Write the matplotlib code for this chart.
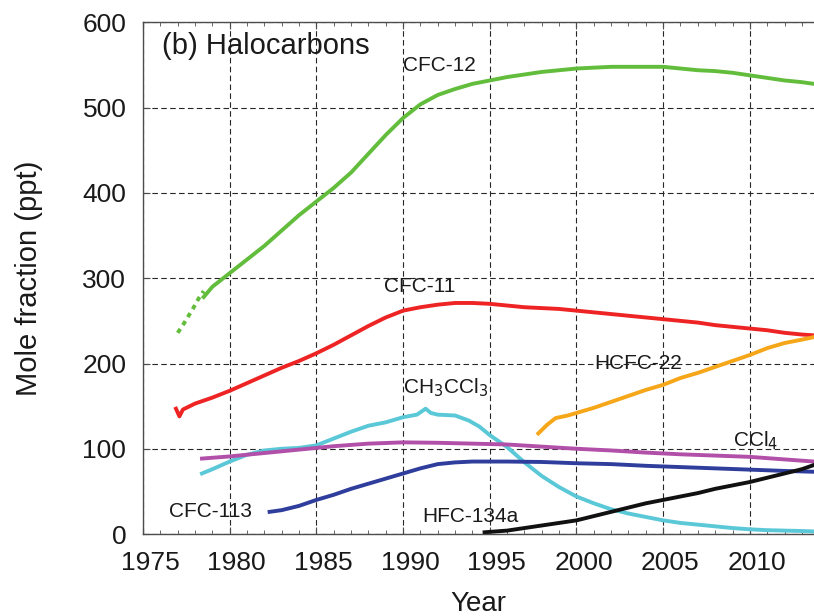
import matplotlib
matplotlib.use("Agg")
import matplotlib.pyplot as plt
import matplotlib.transforms as mtransforms
from matplotlib.ticker import MultipleLocator

plt.rcParams['font.family'] = ['Liberation Sans', 'DejaVu Sans']

## Dados (ppt)
anos_cfc12_ini = [1977.0, 1977.3, 1977.6, 1977.9, 1978.2, 1978.5]
cfc12_ini = [236, 245, 255, 265, 276, 285]

anos_cfc12 = [1978.5, 1979, 1980, 1981, 1982, 1983, 1984, 1985, 1986, 1987, 1988,
              1989, 1990, 1991, 1992, 1993, 1994, 1995, 1996, 1997, 1998, 1999,
              2000, 2001, 2002, 2003, 2004, 2005, 2006, 2007, 2008, 2009, 2010,
              2011, 2012, 2013, 2013.7]
cfc12 = [278, 290, 306, 322, 338, 356, 374, 390, 406, 424, 446, 468, 488, 504,
         515, 522, 528, 532, 536, 539, 542, 544, 546, 547, 548, 548, 548, 548,
         546, 544, 543, 541, 538, 535, 532, 530, 528]

anos_cfc11 = [1976.9, 1977.1, 1977.3, 1978, 1979, 1980, 1981, 1982, 1983, 1984,
              1985, 1986, 1987, 1988, 1989, 1990, 1991, 1992, 1993, 1994, 1995,
              1996, 1997, 1998, 1999, 2000, 2001, 2002, 2003, 2004, 2005, 2006,
              2007, 2008, 2009, 2010, 2011, 2012, 2013, 2013.7]
cfc11 = [147, 138, 146, 153, 160, 168, 177, 186, 195, 203, 212, 222, 233, 244,
         254, 262, 266, 269, 271, 271, 270, 268, 266, 265, 264, 262, 260, 258,
         256, 254, 252, 250, 248, 245, 243, 241, 239, 236, 234, 233]

anos_hcfc22 = [1997.8, 1998.3, 1998.8, 1999.5, 2000, 2001, 2002, 2003, 2004, 2005,
               2006, 2007, 2008, 2009, 2010, 2011, 2012, 2013, 2013.7]
hcfc22 = [118, 128, 136, 139, 142, 148, 155, 162, 169, 175, 183, 189, 196, 203,
          210, 218, 224, 228, 231]

anos_ch3ccl3 = [1978.4, 1979, 1980, 1981, 1982, 1983, 1984, 1985, 1986, 1987, 1988,
                1989, 1990, 1990.8, 1991.3, 1991.6, 1992, 1993, 1993.8, 1994.4,
                1995, 1996, 1997, 1998, 1999, 2000, 2001, 2002, 2003, 2004, 2005,
                2006, 2007, 2008, 2009, 2010, 2011, 2012, 2013, 2013.7]
ch3ccl3 = [71, 76, 85, 93, 98, 100, 101, 104, 112, 120, 127, 131, 137, 140, 147,
           142, 140, 139, 133, 126, 116, 102, 84, 68, 55, 44, 36, 29, 24, 20, 16,
           13, 11, 9, 7, 5.5, 4.5, 4, 3.5, 3]

anos_ccl4 = [1978.4, 1980, 1982, 1984, 1986, 1988, 1990, 1992, 1994, 1996, 1998,
             2000, 2002, 2004, 2006, 2008, 2010, 2012, 2013.7]
ccl4 = [88.5, 91, 95, 99, 103, 106, 107.5, 107, 106, 105, 102.5, 100, 98, 95.5,
        93.5, 92, 90.5, 87.5, 85]

anos_cfc113 = [1982.3, 1983, 1984, 1985, 1986, 1987, 1988, 1989, 1990, 1991, 1992,
               1993, 1994, 1995, 1996, 1998, 2000, 2002, 2004, 2006, 2008, 2010,
               2012, 2013.7]
cfc113 = [26, 28, 33, 40, 46, 53, 59, 65, 71, 77, 82, 84, 85, 85, 85, 84.5, 83,
          82, 80, 78.5, 77, 75.5, 74, 73]

anos_hfc134a = [1994.7, 1995, 1996, 1997, 1998, 1999, 2000, 2001, 2002, 2003, 2004,
                2005, 2006, 2007, 2008, 2009, 2010, 2011, 2012, 2013, 2013.7]
hfc134a = [2, 2.5, 4, 7, 10, 13, 16, 21, 26, 31, 36, 40, 44, 48, 53, 57, 61, 66,
           71, 76, 81]

# rótulos das séries: (texto, ano, valor)
rotulos = [
    ("CFC-12", 1990.0, 550),
    ("CFC-11", 1988.9, 290),
    (r"CH$_3$CCl$_3$", 1990.0, 172),
    ("HCFC-22", 2001.0, 200),
    (r"CCl$_4$", 2009.0, 110),
    ("CFC-113", 1976.5, 26),
    ("HFC-134a", 1991.1, 20),
]

fig = plt.figure(figsize=(8.14, 6.16), dpi=100)
ax = fig.add_axes([0.1757, 0.1331, 0.8243, 0.8304])

lw = 2.8
ax.plot(anos_cfc12_ini, cfc12_ini, color="#62bd3c", lw=lw, ls=(0, (1.2, 1.2)))
ax.plot(anos_cfc12, cfc12, color="#62bd3c", lw=lw)
ax.plot(anos_cfc11, cfc11, color="#ee2424", lw=lw)
ax.plot(anos_hcfc22, hcfc22, color="#f6a619", lw=lw)
ax.plot(anos_ch3ccl3, ch3ccl3, color="#5bc8d8", lw=lw)
ax.plot(anos_ccl4, ccl4, color="#b14fa9", lw=lw)
ax.plot(anos_cfc113, cfc113, color="#2f3e9c", lw=lw)
ax.plot(anos_hfc134a, hfc134a, color="#111111", lw=lw)

for texto, x, y in rotulos:
    ax.text(x, y, texto, fontsize=15, ha="left", va="center", color="#1a1a1a")

ax.text(0.028, 0.955, "(b) Halocarbons", transform=ax.transAxes, fontsize=21,
        ha="left", va="center", color="#1a1a1a")

ax.set_xlim(1975, 2013.7)
ax.set_ylim(0, 600)
ax.xaxis.set_major_locator(MultipleLocator(5))
ax.xaxis.set_minor_locator(MultipleLocator(1))
ax.yaxis.set_major_locator(MultipleLocator(100))
ax.grid(True, which="major", color="0.15", ls=(0, (5, 3)), lw=0.8)
ax.set_axisbelow(True)

ax.spines["right"].set_visible(False)
for lado in ["left", "bottom", "top"]:
    ax.spines[lado].set_color("0.3")
    ax.spines[lado].set_linewidth(1.0)

ax.tick_params(which="both", direction="in", top=True, color="0.3")
ax.tick_params(which="major", length=5, labelsize=19, pad=12, labelcolor="#1a1a1a")
ax.tick_params(which="minor", length=3)

# os rótulos do eixo x estão um pouco deslocados para a direita
desloca = mtransforms.ScaledTranslation(7 / 100, 0, fig.dpi_scale_trans)
for lbl in ax.get_xticklabels():
    lbl.set_transform(lbl.get_transform() + desloca)

ax.set_xlabel("Year", fontsize=20, color="#1a1a1a", labelpad=12)
ax.set_ylabel("Mole fraction (ppt)", fontsize=21, color="#1a1a1a", labelpad=28)

fig.savefig("out.png", dpi=100)
